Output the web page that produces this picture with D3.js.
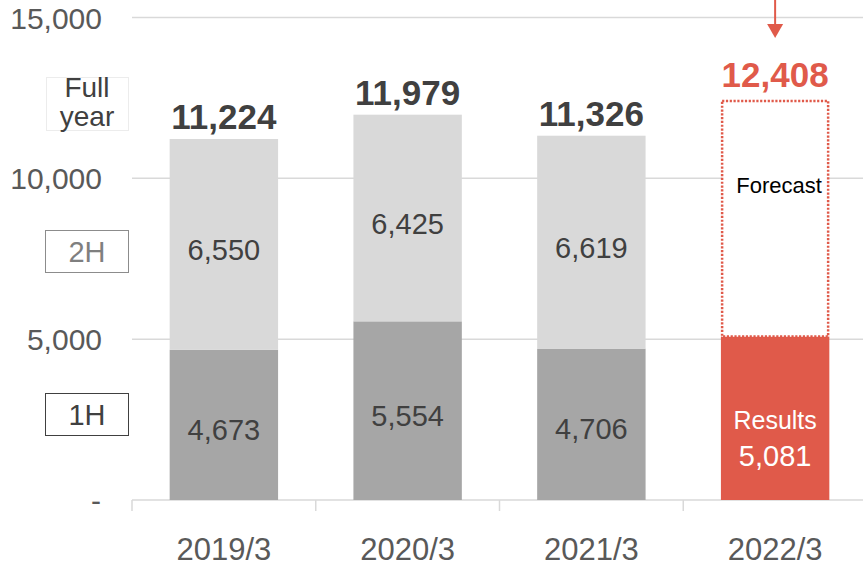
<!DOCTYPE html>
<html>
<head>
<meta charset="utf-8">
<script src="https://cdn.jsdelivr.net/npm/d3@7/dist/d3.min.js"></script>
<style>
  html, body { margin: 0; padding: 0; background: #fff; }
  svg { display: block; font-family: "Liberation Sans", Arial, Helvetica, sans-serif; }
</style>
</head>
<body>
<svg id="chart" width="863" height="566"></svg>
<script>
// Fiscal years and half-year figures
const categories = ["2019/3", "2020/3", "2021/3", "2022/3"];
const firstHalf  = [4673, 5554, 4706, 5081];
const secondHalf = [6550, 6425, 6619, null];
const fullYear   = [11224, 11979, 11326, 12408];
const yTicks     = [0, 5000, 10000, 15000];
const yTickLabels = ["-", "5,000", "10,000", "15,000"];

const RED = "#e05a4a";
const DARK = "#a6a6a6";
const LIGHT = "#d9d9d9";
const TEXT = "#404040";
const AXIS_TEXT = "#595959";

const svg = d3.select("#chart");
const fmt = d3.format(",");

const x = d3.scaleBand().domain(categories).range([132, 867]).padding(0);
const y = d3.scaleLinear().domain([0, 15000]).range([500, 17.5]);
const barW = x.bandwidth() * 0.59;
const cx = c => x(c) + x.bandwidth() / 2;

// horizontal gridlines
svg.append("g").selectAll("line")
  .data(yTicks.filter(t => t > 0))
  .join("line")
  .attr("x1", 132).attr("x2", 863)
  .attr("y1", d => y(d)).attr("y2", d => y(d))
  .attr("stroke", LIGHT).attr("stroke-width", 1.5);

// y tick labels
svg.append("g").selectAll("text")
  .data(yTicks)
  .join("text")
  .attr("x", (d, i) => d === 0 ? 101 : 102)
  .attr("y", d => y(d) + 11)
  .attr("text-anchor", "end")
  .attr("fill", AXIS_TEXT)
  .attr("font-size", 30)
  .text((d, i) => yTickLabels[i]);

// category axis
const xAxis = svg.append("g").attr("transform", "translate(0,500)")
  .call(d3.axisBottom(x).tickSize(0).tickFormat(""));
xAxis.select(".domain").attr("stroke", LIGHT).attr("stroke-width", 1.5)
  .attr("d", "M132,0H863");
xAxis.append("g").selectAll("line")
  .data(categories)
  .join("line")
  .attr("x1", d => x(d)).attr("x2", d => x(d))
  .attr("y1", 0).attr("y2", 11)
  .attr("stroke", LIGHT).attr("stroke-width", 1.5);
xAxis.append("g").selectAll("text")
  .data(categories)
  .join("text")
  .attr("x", d => cx(d))
  .attr("y", 60)
  .attr("text-anchor", "middle")
  .attr("fill", AXIS_TEXT)
  .attr("font-size", 31)
  .text(d => d);

const idx = categories.map((c, i) => i);

// 1H segments
svg.append("g").selectAll("rect")
  .data(idx)
  .join("rect")
  .attr("x", i => cx(categories[i]) - barW / 2)
  .attr("width", barW)
  .attr("y", i => y(firstHalf[i]))
  .attr("height", i => y(0) - y(firstHalf[i]))
  .attr("fill", i => secondHalf[i] === null ? RED : DARK);

// 2H segments
svg.append("g").selectAll("rect")
  .data(idx.filter(i => secondHalf[i] !== null))
  .join("rect")
  .attr("x", i => cx(categories[i]) - barW / 2)
  .attr("width", barW)
  .attr("y", i => y(firstHalf[i] + secondHalf[i]))
  .attr("height", i => y(firstHalf[i]) - y(firstHalf[i] + secondHalf[i]))
  .attr("fill", LIGHT);

// forecast outline for the remaining half
const fi = idx.filter(i => secondHalf[i] === null);
svg.append("g").selectAll("rect")
  .data(fi)
  .join("rect")
  .attr("x", i => cx(categories[i]) - barW / 2 + 1.2)
  .attr("width", barW - 2.4)
  .attr("y", i => y(fullYear[i]))
  .attr("height", i => y(firstHalf[i]) - y(fullYear[i]))
  .attr("fill", "#fff")
  .attr("stroke", RED)
  .attr("stroke-width", 2.5)
  .attr("stroke-dasharray", "2.2,1.6");

svg.append("g").selectAll("text")
  .data(fi)
  .join("text")
  .attr("x", i => cx(categories[i]) + 4)
  .attr("y", 193)
  .attr("text-anchor", "middle")
  .attr("fill", "#000")
  .attr("font-size", 22)
  .text("Forecast");

// value labels inside the 1H segments
svg.append("g").selectAll("text")
  .data(idx.filter(i => secondHalf[i] !== null))
  .join("text")
  .attr("x", i => cx(categories[i]))
  .attr("y", i => (y(0) + y(firstHalf[i])) / 2 + 15)
  .attr("text-anchor", "middle")
  .attr("fill", TEXT)
  .attr("font-size", 29)
  .text(i => fmt(firstHalf[i]));

// value labels inside the 2H segments
svg.append("g").selectAll("text")
  .data(idx.filter(i => secondHalf[i] !== null))
  .join("text")
  .attr("x", i => cx(categories[i]))
  .attr("y", i => (y(firstHalf[i]) + y(firstHalf[i] + secondHalf[i])) / 2 + 16)
  .attr("text-anchor", "middle")
  .attr("fill", TEXT)
  .attr("font-size", 29)
  .text(i => fmt(secondHalf[i]));

// results label in the red bar
fi.forEach(i => {
  const mid = (y(0) + y(firstHalf[i])) / 2;
  const g = svg.append("g").attr("fill", "#fff").attr("text-anchor", "middle");
  g.append("text").attr("x", cx(categories[i])).attr("y", mid + 11)
    .attr("font-size", 25).text("Results");
  g.append("text").attr("x", cx(categories[i])).attr("y", mid + 48)
    .attr("font-size", 29).text(fmt(firstHalf[i]));
});

// full-year totals above the bars
svg.append("g").selectAll("text")
  .data(idx)
  .join("text")
  .attr("x", i => cx(categories[i]))
  .attr("y", i => y(fullYear[i]) - (secondHalf[i] === null ? 14 : 10))
  .attr("text-anchor", "middle")
  .attr("font-weight", "bold")
  .attr("font-size", 35)
  .attr("fill", i => secondHalf[i] === null ? RED : TEXT)
  .text(i => fmt(fullYear[i]));

// arrow pointing at the forecast total
fi.forEach(i => {
  const ax = cx(categories[i]);
  svg.append("line").attr("x1", ax).attr("x2", ax).attr("y1", 0).attr("y2", 26)
    .attr("stroke", RED).attr("stroke-width", 2);
  svg.append("path")
    .attr("d", `M${ax - 8},24L${ax + 8},24L${ax},38Z`)
    .attr("fill", RED);
});

// legend boxes
const legend = svg.append("g");
legend.append("rect").attr("x", 46.5).attr("y", 77.5).attr("width", 82).attr("height", 53)
  .attr("fill", "none").attr("stroke", "#ececec").attr("stroke-width", 1);
legend.append("text").attr("x", 87).attr("y", 97).attr("text-anchor", "middle")
  .attr("font-size", 28).attr("fill", TEXT).text("Full");
legend.append("text").attr("x", 87).attr("y", 126).attr("text-anchor", "middle")
  .attr("font-size", 28).attr("fill", TEXT).text("year");

legend.append("rect").attr("x", 45.5).attr("y", 230.5).attr("width", 83).attr("height", 42)
  .attr("fill", "#fff").attr("stroke", "#8c8c8c").attr("stroke-width", 1);
legend.append("text").attr("x", 87).attr("y", 262).attr("text-anchor", "middle")
  .attr("font-size", 29).attr("fill", "#7f7f7f").text("2H");

legend.append("rect").attr("x", 45.5).attr("y", 393.5).attr("width", 83).attr("height", 42)
  .attr("fill", "#fff").attr("stroke", "#404040").attr("stroke-width", 1);
legend.append("text").attr("x", 87).attr("y", 425).attr("text-anchor", "middle")
  .attr("font-size", 29).attr("fill", TEXT).text("1H");
</script>
</body>
</html>
